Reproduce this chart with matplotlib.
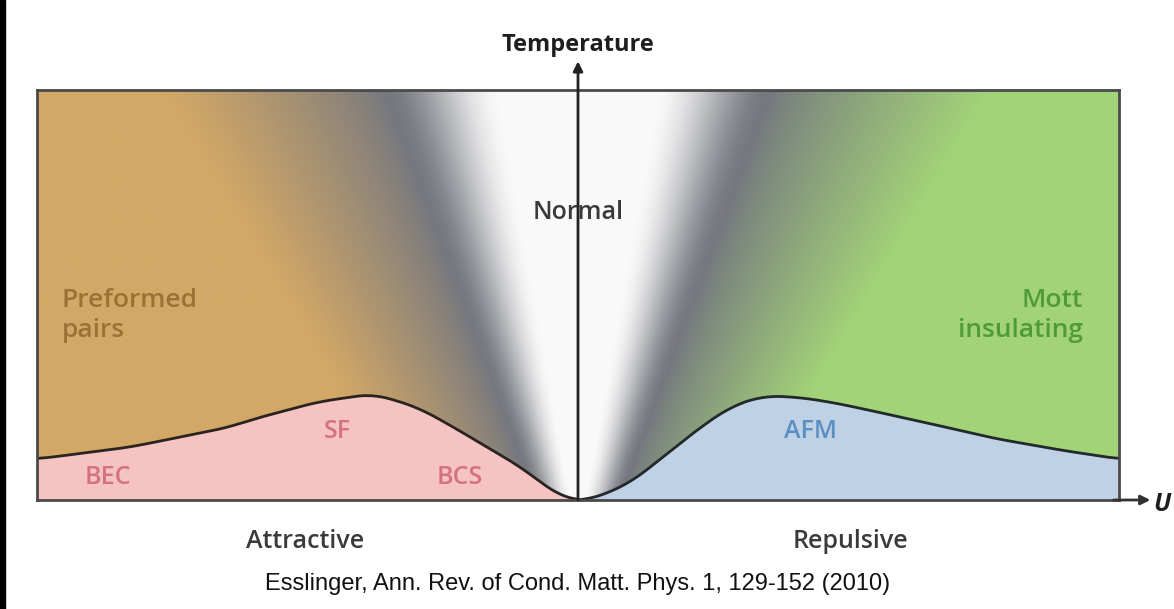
import numpy as np
import matplotlib.pyplot as plt
from matplotlib.patches import Rectangle

# phase boundaries (U scaled to -1..1, T to 0..1)
sf_u = [-1.0, -0.828, -0.643, -0.606, -0.482, -0.379, -0.298, -0.237, -0.181,
        -0.144, -0.120, -0.057, -0.028, 0.0]
sf_t = [0.100, 0.129, 0.178, 0.195, 0.239, 0.259, 0.227, 0.183, 0.139,
        0.110, 0.093, 0.032, 0.005, 0.0]

afm_u = [0.0, 0.022, 0.096, 0.157, 0.220, 0.281, 0.342, 0.405, 0.466, 0.521,
         0.645, 0.767, 0.891, 1.0]
afm_t = [0.0, 0.0, 0.041, 0.105, 0.171, 0.227, 0.254, 0.251, 0.239, 0.224,
         0.188, 0.151, 0.122, 0.100]

phase_labels = ["SF", "BEC", "BCS", "AFM"]
phase_u = [-0.444, -0.869, -0.218, 0.429]
phase_t = [0.166, 0.054, 0.054, 0.166]
phase_colors = ["#d4737d", "#d4737d", "#d4737d", "#5a8fc2"]

tan = np.array([0.83, 0.66, 0.40])
green = np.array([0.64, 0.83, 0.47])
dark = np.array([0.46, 0.47, 0.50])
white = np.array([0.98, 0.98, 0.98])


def smooth_curve(u, t, n=600, win=41):
    uu = np.linspace(u[0], u[-1], n)
    tt = np.interp(uu, u, t)
    pad = win // 2
    tp = np.concatenate([np.full(pad, tt[0]), tt, np.full(pad, tt[-1])])
    tt = np.convolve(tp, np.ones(win) / win, mode="valid")
    return uu, tt


def smoothstep(x):
    x = np.clip(x, 0, 1)
    return x * x * (3 - 2 * x)


# background shading: white V in the middle, grey edges, tan / green wings
nx, ny = 900, 400
U, T = np.meshgrid(np.linspace(-1, 1, nx), np.linspace(0, 1, ny))
a = np.abs(U)
core = 0.01 + 0.13 * T
mid = 0.08 + 0.28 * T
side = 0.32 + 0.45 * T
k1 = smoothstep((a - core) / (mid - core))[..., None]
k2 = np.clip((a - mid) / (side - mid), 0, 1)[..., None] ** 0.8
wing = np.where((U < 0)[..., None], tan, green)
img = white * (1 - k1) + dark * k1
img = img * (1 - k2) + wing * k2

fig = plt.figure(figsize=(11.74, 6.09), dpi=100)
ax = fig.add_axes([37 / 1174, 109 / 609, 1082 / 1174, 410 / 609])
ax.imshow(img, extent=(-1, 1, 0, 1), origin="lower", aspect="auto", zorder=0)

u1, t1 = smooth_curve(sf_u, sf_t)
u2, t2 = smooth_curve(afm_u, afm_t)
ax.fill_between(u1, 0, t1, color="#f4c3c2", zorder=1, lw=0)
ax.fill_between(u2, 0, t2, color="#bfd1e5", zorder=1, lw=0)
ax.plot(u1, t1, color="#2a2320", lw=2, zorder=2)
ax.plot(u2, t2, color="#23282a", lw=2, zorder=2)

ax.set_xlim(-1, 1)
ax.set_ylim(0, 1)
ax.set_xticks([])
ax.set_yticks([])
for sp in ax.spines.values():
    sp.set_color("#4a4a4a")
    sp.set_linewidth(2)

# axes arrows
ax.annotate("", xy=(0, 1.07), xytext=(0, 0), annotation_clip=False,
            arrowprops=dict(arrowstyle="-|>", color="#222222", lw=2,
                            mutation_scale=14, shrinkA=0, shrinkB=0))
ax.annotate("", xy=(1.058, 0), xytext=(0.99, 0), annotation_clip=False,
            arrowprops=dict(arrowstyle="-|>", color="#333333", lw=2,
                            mutation_scale=14, shrinkA=0, shrinkB=0))

font = "Open Sans"
ax.text(0, 1.11, "Temperature", ha="center", va="center", fontsize=17,
        fontweight="bold", family=font, color="#1e1e1e", clip_on=False)
ax.text(1.08, -0.01, "U", ha="center", va="center", fontsize=18,
        fontweight="bold", style="italic", family=font, color="#1e1e1e",
        clip_on=False)
ax.text(0, 0.702, "Normal", ha="center", va="center", fontsize=18,
        fontweight="semibold", family=font, color="#3a3a3a", zorder=3)
ax.text(-0.954, 0.45, "Preformed\npairs", ha="left", va="center",
        fontsize=19, fontweight="semibold", family=font, color="#9a7238",
        linespacing=1.25)
ax.text(0.933, 0.45, "Mott\ninsulating", ha="right", va="center",
        fontsize=19, fontweight="semibold", family=font, color="#4f9a3a",
        linespacing=1.25, multialignment="right")
for lab, x, y, c in zip(phase_labels, phase_u, phase_t, phase_colors):
    ax.text(x, y, lab, ha="center", va="center", fontsize=18,
            fontweight="semibold", family=font, color=c, zorder=3)

ax.text(-0.505, -0.1, "Attractive", ha="center", va="center", fontsize=18,
        fontweight="semibold", family=font, color="#3a3a3a", clip_on=False)
ax.text(0.503, -0.1, "Repulsive", ha="center", va="center", fontsize=18,
        fontweight="semibold", family=font, color="#3a3a3a", clip_on=False)
ax.text(0, -0.205, "Esslinger, Ann. Rev. of Cond. Matt. Phys. 1, 129-152 (2010)",
        ha="center", va="center", fontsize=17, family="Liberation Sans",
        color="#111111", clip_on=False)

fig.patches.append(Rectangle((0, 0), 5 / 1174, 1, transform=fig.transFigure,
                             color="black"))

fig.savefig("out.png", dpi=100)
